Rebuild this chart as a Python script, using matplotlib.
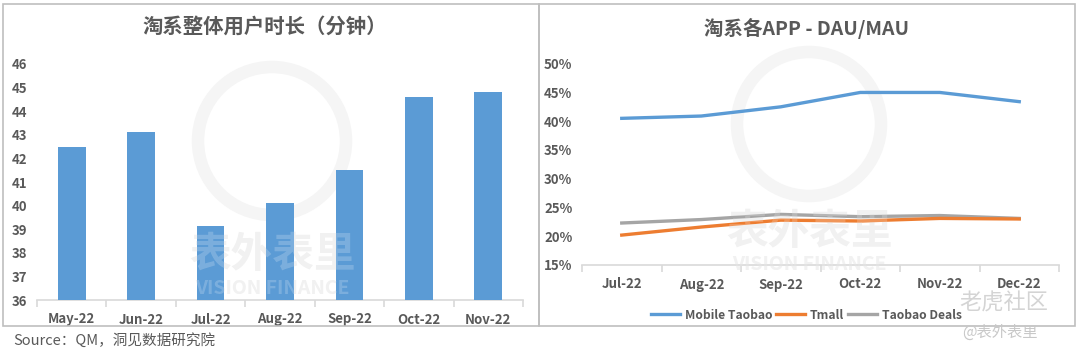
import matplotlib
matplotlib.use("Agg")
import matplotlib.pyplot as plt
from matplotlib.patches import Rectangle, Circle
from matplotlib.ticker import FixedLocator, FuncFormatter

plt.rcParams['font.family'] = ['Noto Sans CJK SC', 'DejaVu Sans']

# 左图：淘系整体用户时长
meses_bar = ['May-22', 'Jun-22', 'Jul-22', 'Aug-22', 'Sep-22', 'Oct-22', 'Nov-22']
minutos = [42.5, 43.1, 39.15, 40.1, 41.5, 44.6, 44.8]

# 右图：DAU/MAU
meses_linha = ['Jul-22', 'Aug-22', 'Sep-22', 'Oct-22', 'Nov-22', 'Dec-22']
mobile_taobao = [40.5, 40.9, 42.5, 45.0, 45.0, 43.4]
tmall = [20.2, 21.6, 22.8, 22.65, 23.1, 23.0]
taobao_deals = [22.3, 22.9, 23.8, 23.4, 23.6, 23.1]

cinza_txt = '#595959'
cinza_eixo = '#D9D9D9'

figura = plt.figure(figsize=(10.8, 3.53), dpi=100)

# molduras
for x0, x1 in [(3, 539), (539, 1075)]:
    figura.patches.append(Rectangle((x0 / 1080, 1 - 326 / 353), (x1 - x0) / 1080, (326 - 4) / 353,
                                    transform=figura.transFigure, fill=False,
                                    edgecolor='#BFBFBF', linewidth=1.2))


def marca_dagua(ax, cx, cy, r, ty1, ty2):
    # logo fraco atras das series (coordenadas em pixels da figura)
    anel = Circle((cx / 100, (353 - cy) / 100), r / 100, transform=figura.dpi_scale_trans,
                  fill=False, edgecolor='#F5F5F5', linewidth=9, zorder=1, clip_on=False)
    ax.add_patch(anel)
    for cor, alfa, z in [('#EEEEEE', 1, 1), ('white', 0.2, 4)]:
        ax.text(cx / 100, (353 - ty1) / 100, '表外表里', transform=figura.dpi_scale_trans,
                fontsize=30, fontweight='bold', color=cor, alpha=alfa, ha='center', va='center', zorder=z)
        ax.text(cx / 100, (353 - ty2) / 100, 'VISION FINANCE', transform=figura.dpi_scale_trans,
                fontsize=14, fontweight='bold', color=cor, alpha=alfa, ha='center', va='center', zorder=z)


def estilo_eixo(ax, n):
    ax.patch.set_alpha(0)
    ax.set_xlim(-0.5, n - 0.5)
    ax.xaxis.set_minor_locator(FixedLocator([i - 0.5 for i in range(n + 1)]))
    for lado in ['top', 'right', 'left']:
        ax.spines[lado].set_visible(False)
    ax.spines['bottom'].set_color(cinza_eixo)
    ax.spines['bottom'].set_linewidth(1.2)
    ax.tick_params(axis='x', which='major', length=0, pad=9, labelsize=9.5, labelcolor=cinza_txt)
    ax.tick_params(axis='x', which='minor', length=5, color=cinza_eixo, width=1.2)
    ax.tick_params(axis='y', length=0, pad=7, labelsize=9.5, labelcolor=cinza_txt)
    for t in ax.get_xticklabels() + ax.get_yticklabels():
        t.set_fontweight('bold')


# ---- barras
ax1 = figura.add_axes([37 / 1080, 1 - 300 / 353, (523 - 37) / 1080, (300 - 64) / 353])
x = range(len(meses_bar))
ax1.bar(x, [v - 36 for v in minutos], bottom=36, width=0.4, color='#5B9BD5', zorder=3)
ax1.set_ylim(36, 46)
ax1.set_yticks(range(36, 47))
ax1.set_xticks(list(x))
ax1.set_xticklabels(meses_bar)
estilo_eixo(ax1, len(meses_bar))
marca_dagua(ax1, 272, 141, 74, 255, 288)
figura.text(0.2455, 1 - 26 / 353, '淘系整体用户时长（分钟）', fontsize=14.7, fontweight='bold',
            color=cinza_txt, ha='center', va='center')

# ---- linhas
ax2 = figura.add_axes([582 / 1080, 1 - 265 / 353, (1059 - 582) / 1080, (265 - 63.7) / 353])
xl = range(len(meses_linha))
ax2.plot(xl, mobile_taobao, color='#5B9BD5', linewidth=2.4, label='Mobile Taobao', zorder=3)
ax2.plot(xl, tmall, color='#ED7D31', linewidth=2.4, label='Tmall', zorder=3)
ax2.plot(xl, taobao_deals, color='#A5A5A5', linewidth=2.4, label='Taobao Deals', zorder=2)
ax2.set_ylim(15, 50)
ax2.set_yticks(range(15, 51, 5))
ax2.yaxis.set_major_formatter(FuncFormatter(lambda v, p: '%d%%' % v))
ax2.set_xticks(list(xl))
ax2.set_xticklabels(meses_linha)
estilo_eixo(ax2, len(meses_linha))
marca_dagua(ax2, 809, 124, 72, 232, 265)
leg = ax2.legend(loc='center', bbox_to_anchor=(0.47, -0.249), ncol=3, frameon=False,
                 fontsize=8.7, handlelength=2.4, handletextpad=0.4, columnspacing=0.3)
for t in leg.get_texts():
    t.set_color(cinza_txt)
    t.set_fontweight('bold')
figura.text(0.7465, 1 - 28 / 353, '淘系各APP - DAU/MAU', fontsize=14, fontweight='bold',
            color=cinza_txt, ha='center', va='center')

# rodape
figura.text(13 / 1080, 1 - 340 / 353, 'Source：QM，洞见数据研究院', fontsize=10.5,
            color=cinza_txt, ha='left', va='center')
figura.text(1004 / 1080, 1 - 303 / 353, '老虎社区', fontsize=16, color='#D4D4D4',
            ha='center', va='center')
figura.text(1000 / 1080, 1 - 332 / 353, '@表外表里', fontsize=11, color='#C8C8C8',
            ha='center', va='center')

figura.savefig('out.png', dpi=100)
